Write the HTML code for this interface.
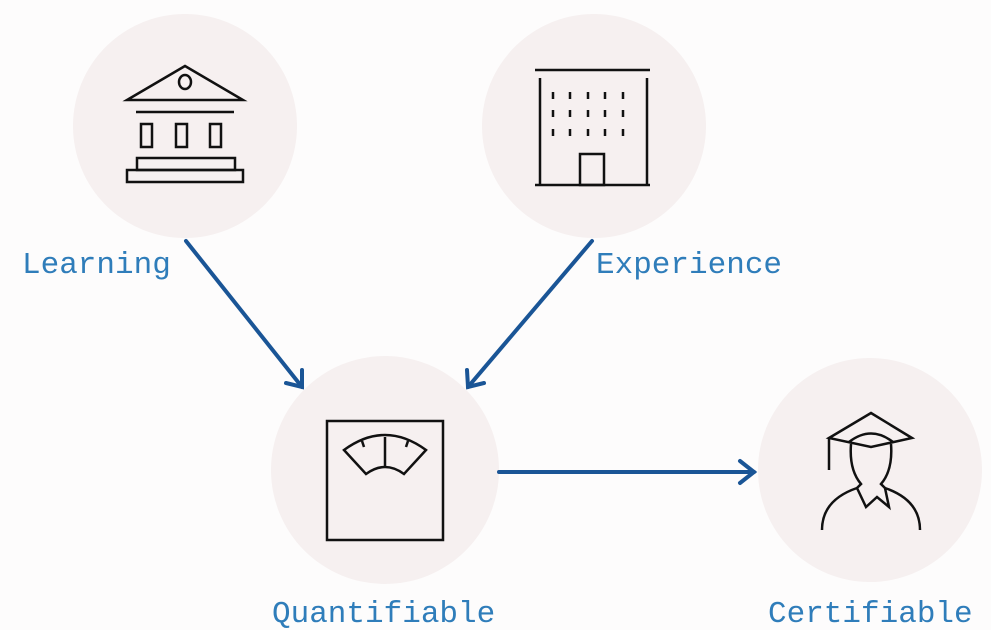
<!DOCTYPE html>
<html><head><style>
body{margin:0;background:#fff;}
svg{display:block}
text{font-family:"Liberation Mono",monospace;font-size:31px;fill:#2f7dba;}
</style></head><body>
<svg width="991" height="630" viewBox="0 0 991 630">
<rect width="991" height="630" fill="#fdfcfc"/>
<g fill="#f6f0f0">
<circle cx="185" cy="126" r="112"/>
<circle cx="594" cy="126" r="112"/>
<circle cx="385" cy="470" r="114"/>
<circle cx="870" cy="470" r="112"/>
</g>
<g fill="none" stroke="#111" stroke-width="2.5">
<!-- bank -->
<path d="M127 100 L185 66 L243 100 Z"/>
<ellipse cx="185" cy="82" rx="6" ry="7"/>
<line x1="136" y1="112" x2="234" y2="112"/>
<rect x="141" y="124" width="11" height="23"/>
<rect x="176" y="124" width="11" height="23"/>
<rect x="210" y="124" width="11" height="23"/>
<rect x="137" y="158" width="98" height="12"/>
<rect x="127" y="170" width="116" height="12"/>
<!-- building -->
<line x1="535" y1="70" x2="650" y2="70"/>
<line x1="540" y1="78" x2="540" y2="185"/>
<line x1="647" y1="78" x2="647" y2="185"/>
<line x1="535" y1="185" x2="650" y2="185"/>
<rect x="580" y="154" width="24" height="31"/>
<!-- scale -->
<rect x="327" y="421" width="116" height="119"/>
<path d="M344 450 Q385 420 426 450 L404 474 Q385 460 366 474 Z"/>
<line x1="385" y1="437" x2="385" y2="468"/>
<line x1="362" y1="441" x2="364" y2="447"/>
<line x1="408" y1="441" x2="406" y2="447"/>
<!-- graduate -->
<path d="M871 413 L912 438 L871 447 L829 438 Z"/>
<path d="M849 442 Q871 425 893 442"/>
<line x1="829" y1="438" x2="829" y2="470"/>
<path d="M851 444 Q849 470 861 484 L857 488 M891 444 Q893 470 881 484 L885 488"/>
<path d="M822 530 Q822 500 857 488 L866 507 L877 497 L889 507 L885 488 Q920 500 920 530"/>
</g>
<g stroke="#111" stroke-width="2.5">
<path d="M553 92v7M570 92v7M588 92v7M605 92v7M623 92v7 M553 110v7M570 110v7M588 110v7M605 110v7M623 110v7 M553 129v7M570 129v7M588 129v7M605 129v7M623 129v7"/>
</g>
<g stroke="#1a5596" stroke-width="4" fill="none" stroke-linecap="round">
<line x1="186" y1="241" x2="302" y2="387"/>
<path d="M286 383 L302 387 L302 370"/>
<line x1="592" y1="241" x2="468" y2="387"/>
<path d="M467 370 L468 387 L484 383"/>
<line x1="499" y1="472" x2="754" y2="472"/>
<path d="M740 461 L754 472 L740 483"/>
</g>
<text x="22" y="273">Learning</text>
<text x="596" y="273">Experience</text>
<text x="272" y="622">Quantifiable</text>
<text x="768" y="622">Certifiable</text>
</svg>
</body></html>
